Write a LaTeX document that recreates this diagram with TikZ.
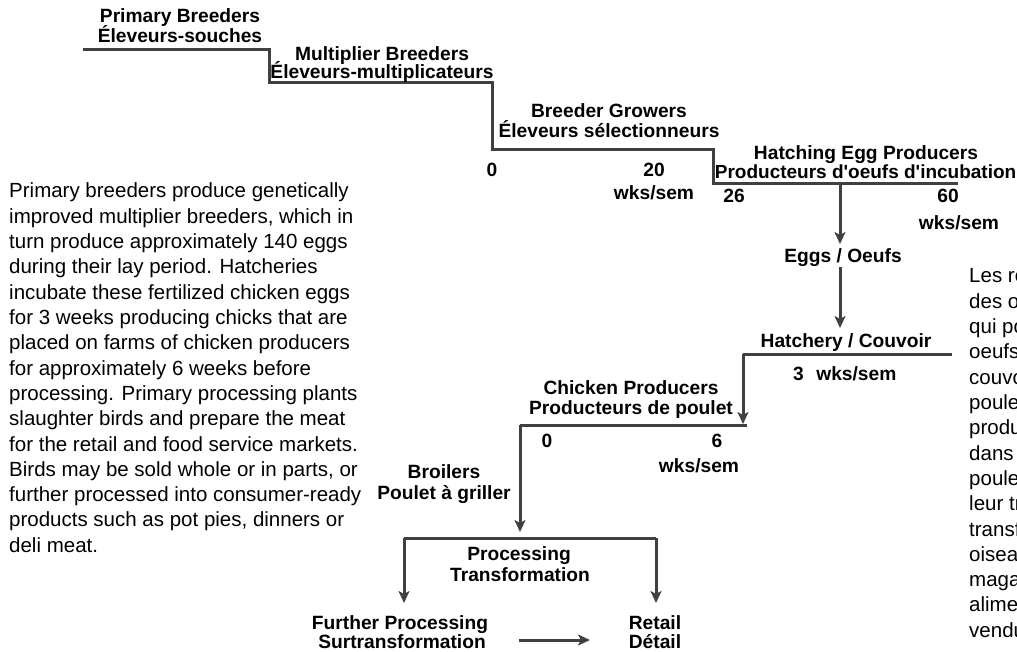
\documentclass[tikz,border=0pt]{standalone}
\usepackage{fontspec}
\setmainfont{Liberation Sans}
\usetikzlibrary{arrows.meta}
\definecolor{linegray}{RGB}{64,64,64}
\begin{document}
\begin{tikzpicture}[x=1pt,y=-1pt,
  flow/.style={draw=linegray, line width=3pt},
  arr/.style={draw=linegray, line width=3pt, -{Stealth[length=12pt,width=11pt,inset=3pt]}},
  lbl/.style={font=\fontsize{19.2}{20}\selectfont\bfseries, inner sep=0pt, anchor=base},
  para/.style={font=\fontsize{20.5}{25}\selectfont, inner sep=0pt, anchor=base west},
]
\useasboundingbox (0,0) rectangle (1017,652);

% ---------- staircase ----------
\coordinate (s0) at (83,50);
\coordinate (s1) at (269,50);
\coordinate (s2) at (269,83);
\coordinate (s3) at (492,83);
\coordinate (s4) at (492,150);
\coordinate (s5) at (713,150);
\coordinate (s6) at (713,184);
\coordinate (s7) at (958,184);
\draw[flow, line join=miter] (s0) -- (s1) -- (s2) -- (s3) -- (s4) -- (s5) -- (s6) -- (s7);

\node[lbl] (pb1) at (180,23) {Primary Breeders};
\node[lbl] (pb2) at (180,43) {Éleveurs-souches};
\node[lbl] (mb1) at (382,61) {Multiplier Breeders};
\node[lbl] (mb2) at (382,79) {Éleveurs-multiplicateurs};
\node[lbl] (bg1) at (609,118) {Breeder Growers};
\node[lbl] (bg2) at (609,138) {Éleveurs sélectionneurs};
\node[lbl] (bg0) at (492,177) {0};
\node[lbl] (bg20) at (654,177) {20};
\node[lbl] (bgw) at (654,200) {wks/sem};
\node[lbl] (he1) at (866,160) {Hatching Egg Producers};
\node[lbl, font=\fontsize{19}{20}\selectfont\bfseries, anchor=base east] (he2) at (1016.5,179) {Producteurs d\textquotesingle oeufs d\textquotesingle incubation};
\node[lbl] (he26) at (734,203) {26};
\node[lbl] (he60) at (948,203) {60};
\node[lbl] (hew) at (959,230) {wks/sem};

% ---------- eggs and hatchery ----------
\coordinate (e0) at (840,184);
\coordinate (e1) at (840,244);
\node[lbl] (eggs) at (843,263) {Eggs / Oeufs};
\node[lbl] (hat) at (846,347) {Hatchery / Couvoir};
\draw[arr] (e0) -- (e1);
\coordinate (e2) at (840,267);
\coordinate (e3) at (840,328);
\draw[arr] (e2) -- (e3);

\coordinate (h0) at (952,354);
\coordinate (h1) at (743,354);
\coordinate (h2) at (743,424);
\draw[flow, line join=miter] (h0) -- (h1);
\draw[arr] (h1) -- (h2);
\node[lbl, anchor=base west] (hw) at (793,380) {3\hspace{0.65em}wks/sem};

% ---------- chicken producers ----------
\node[lbl] (cp1) at (631,394) {Chicken Producers};
\node[lbl] (cp2) at (631,414) {Producteurs de poulet};
\coordinate (c0) at (747,425);
\coordinate (c1) at (520,425);
\coordinate (c2) at (520,532);
\draw[flow] (c0) -- (c1);
\draw[arr] (c1) -- (c2);
\node[lbl] (cp0) at (547,447) {0};
\node[lbl] (cp6) at (717,447) {6};
\node[lbl] (cpw) at (699,472) {wks/sem};
\node[lbl] (br1) at (444,478) {Broilers};
\node[lbl] (br2) at (444,499) {Poulet à griller};

% ---------- processing ----------
\coordinate (p0) at (404,538);
\coordinate (p1) at (656,538);
\coordinate (p2) at (404,603);
\coordinate (p3) at (656,603);
\draw[flow] (p0) -- (p1);
\draw[arr] (p0) -- (p2);
\draw[arr] (p1) -- (p3);
\node[lbl] (pr1) at (519,560) {Processing};
\node[lbl] (pr2) at (520,581) {Transformation};
\node[lbl] (fp1) at (400,629) {Further Processing};
\node[lbl] (fp2) at (402,648) {Surtransformation};
\node[lbl] (rt1) at (655,629) {Retail};
\node[lbl] (rt2) at (655,648) {Détail};
\coordinate (f0) at (519,640);
\coordinate (f1) at (590,640);
\draw[arr] (f0) -- (f1);

% ---------- paragraphs ----------
\foreach \i/\txt in {
  1/{Primary breeders produce genetically},
  2/{improved multiplier breeders, which in},
  3/{turn produce approximately 140 eggs},
  4/{during their lay period. Hatcheries},
  5/{incubate these fertilized chicken eggs},
  6/{for 3 weeks producing chicks that are},
  7/{placed on farms of chicken producers},
  8/{for approximately 6 weeks before},
  9/{processing. Primary processing plants},
  10/{slaughter birds and prepare the meat},
  11/{for the retail and food service markets.},
  12/{Birds may be sold whole or in parts, or},
  13/{further processed into consumer-ready},
  14/{products such as pot pies, dinners or},
  15/{deli meat.}}
  \node[para] (en\i) at (9,{198+(\i-1)*25.3}) {\txt};

\begin{scope}
\clip (0,0) rectangle (1017,652);
\foreach \i/\txt in {
  1/{Les re},
  2/{des o},
  3/{qui po},
  4/{oeufs},
  5/{couvo},
  6/{poulet},
  7/{produ},
  8/{dans},
  9/{poulet},
  10/{leur tr},
  11/{transf},
  12/{oiseau},
  13/{maga},
  14/{alimen},
  15/{vendu}}
  \node[para] (fr\i) at (969,{283+(\i-1)*25.3}) {\txt};
\end{scope}
\end{tikzpicture}
\end{document}
